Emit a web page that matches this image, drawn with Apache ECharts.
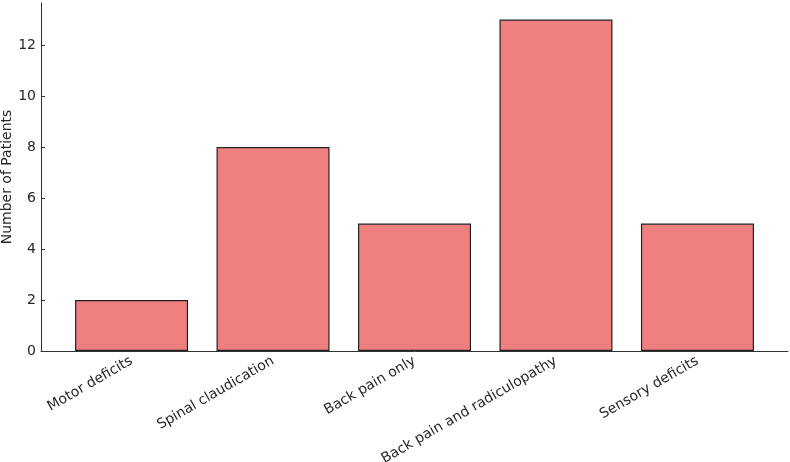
<!DOCTYPE html>
<html>
<head>
<meta charset="utf-8">
<script src="https://cdn.jsdelivr.net/npm/echarts@6/dist/echarts.min.js"></script>
<style>
  html, body { margin: 0; padding: 0; background: #fff; }
  #chart { width: 790px; height: 462px; }
</style>
</head>
<body>
<div id="chart"></div>
<script>
const categories = ['Motor deficits', 'Spinal claudication', 'Back pain only', 'Back pain and radiculopathy', 'Sensory deficits'];
const patients = [2, 8, 5, 13, 5];
const yTicks = [0, 2, 4, 6, 8, 10, 12];

const chart = echarts.init(document.getElementById('chart'));
const axisColor = '#333';
const font = 'DejaVu Sans';

// bars sit at integer positions on a value axis so spacing matches the source
const seriesData = patients.map((v, i) => [i, v]);

chart.setOption({
  animation: false,
  backgroundColor: '#fff',
  grid: { left: 41, right: 2, top: 3, bottom: 111, outerBoundsMode: 'none', containLabel: false },
  xAxis: {
    type: 'value',
    min: -0.64,
    max: 4.64,
    splitLine: { show: false },
    axisLine: { show: true, onZero: false, lineStyle: { color: axisColor, width: 1 } },
    axisTick: {
      show: true, inside: true, length: 4,
      customValues: categories.map((c, i) => i),
      lineStyle: { color: axisColor }
    },
    axisLabel: {
      customValues: categories.map((c, i) => i),
      formatter: (v) => categories[Math.round(v)],
      rotate: 30,
      margin: 9,
      color: '#262626',
      fontFamily: font,
      fontSize: 14
    }
  },
  yAxis: {
    type: 'value',
    min: 0,
    max: 13.65,
    name: 'Number of Patients',
    nameLocation: 'middle',
    nameGap: 27,
    nameMoveOverlap: false,
    nameTextStyle: { color: '#262626', fontFamily: font, fontSize: 14 },
    splitLine: { show: false },
    axisLine: { show: true, onZero: false, lineStyle: { color: axisColor, width: 1 } },
    axisTick: {
      show: true, inside: true, length: 4,
      customValues: yTicks,
      lineStyle: { color: axisColor }
    },
    axisLabel: {
      customValues: yTicks,
      margin: 5,
      color: '#262626',
      fontFamily: font,
      fontSize: 14
    }
  },
  series: [{
    type: 'bar',
    data: seriesData,
    barWidth: 113,
    itemStyle: { color: '#f08080', borderColor: '#222', borderWidth: 1.2 }
  }]
});
</script>
</body>
</html>
